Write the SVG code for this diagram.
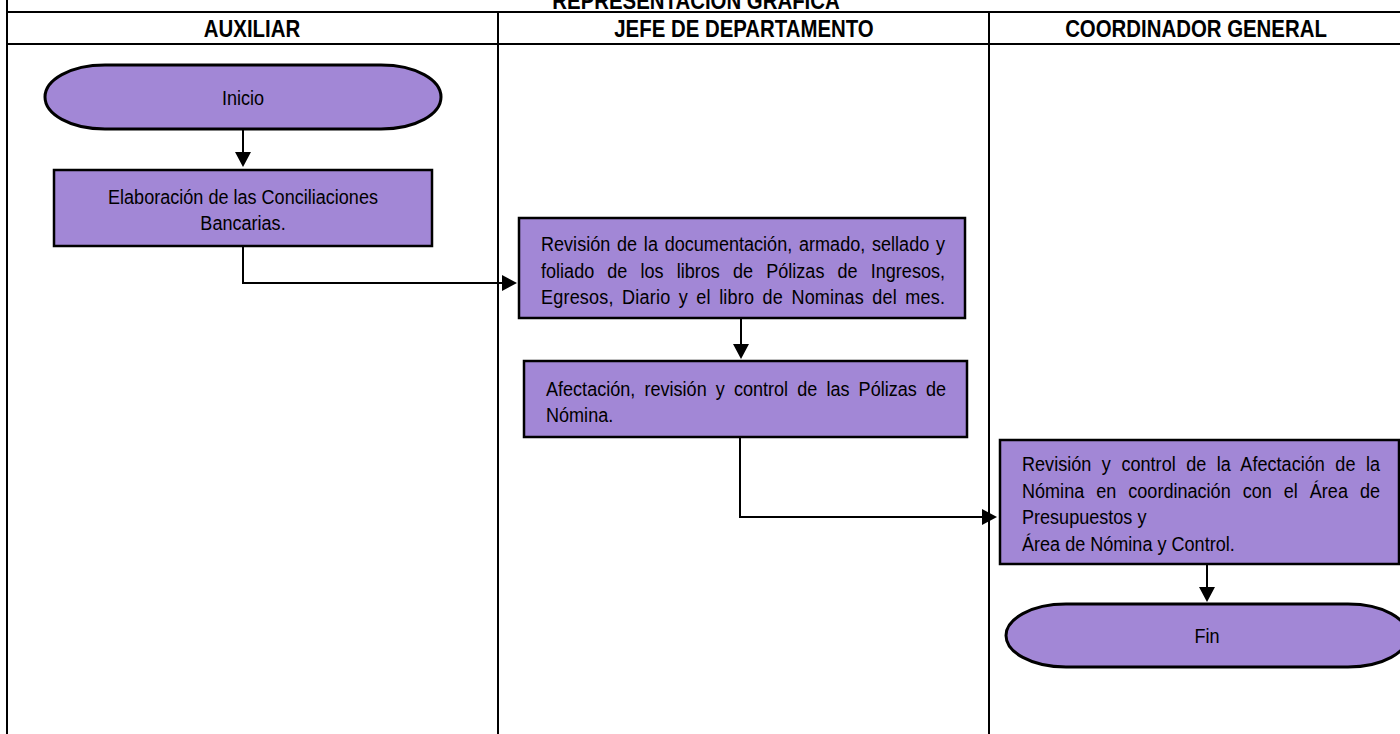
<svg xmlns="http://www.w3.org/2000/svg" width="1400" height="734" viewBox="0 0 1400 734">
<defs>
<style>
.grid{stroke:#000;stroke-width:2;fill:none}
.box{fill:#a287d6;stroke:#000;stroke-width:2.5}
.term{fill:#a287d6;stroke:#000;stroke-width:3}
.t{font-family:'Liberation Sans',Arial,sans-serif;font-size:21px;fill:#000}
.h{font-family:'Liberation Sans',Arial,sans-serif;font-size:24px;font-weight:bold;fill:#000}
.c{stroke:#000;stroke-width:2;fill:none;marker-end:url(#arr)}
</style>
<marker id="arr" viewBox="0 0 15 16" markerWidth="15" markerHeight="16" refX="13" refY="8" orient="auto" markerUnits="userSpaceOnUse">
<path d="M0,0 L15,8 L0,16 Z" fill="#000"/>
</marker>
</defs>
<rect width="1400" height="734" fill="#fff"/>
<g id="table">
<line class="grid" x1="7" y1="0" x2="7" y2="734"/>
<line class="grid" x1="6" y1="12" x2="1400" y2="12"/>
<line class="grid" x1="6" y1="44" x2="1400" y2="44"/>
<line class="grid" x1="498" y1="12" x2="498" y2="734"/>
<line class="grid" x1="989" y1="12" x2="989" y2="734"/>
<text class="h" transform="translate(696,9) scale(0.85,1)" text-anchor="middle">REPRESENTACIÓN GRÁFICA</text>
<text class="h" transform="translate(252,37) scale(0.85,1)" text-anchor="middle">AUXILIAR</text>
<text class="h" transform="translate(744,37) scale(0.85,1)" text-anchor="middle">JEFE DE DEPARTAMENTO</text>
<text class="h" transform="translate(1196,37) scale(0.85,1)" text-anchor="middle">COORDINADOR GENERAL</text>
</g>
<g id="connectors">
<path class="c" d="M243,129 V165"/>
<path class="c" d="M243,246 V283 H515"/>
<path class="c" d="M741,318 V357"/>
<path class="c" d="M740,437 V517 H995"/>
<path class="c" d="M1207,564 V600"/>
</g>
<g id="inicio">
<path class="term" d="M105,65 H381 C416,65 441,80 441,97 C441,114 416,129 381,129 H105 C70,129 45,114 45,97 C45,80 70,65 105,65 Z"/>
<text class="t" transform="translate(243,104.5) scale(0.86,1)" text-anchor="middle">Inicio</text>
</g>
<g id="conciliaciones">
<rect class="box" x="54" y="170" width="378" height="76"/>
<text class="t" transform="translate(243,203.5) scale(0.86,1)" text-anchor="middle">Elaboración de las Conciliaciones</text>
<text class="t" transform="translate(243,229.5) scale(0.86,1)" text-anchor="middle">Bancarias.</text>
</g>
<g id="revision-documentacion">
<rect class="box" x="519" y="218" width="446" height="100"/>
<text class="t" transform="translate(541,250.5) scale(0.86,1)" word-spacing="2" textLength="469.8" lengthAdjust="spacing">Revisión de la documentación, armado, sellado y</text>
<text class="t" transform="translate(541,277.5) scale(0.86,1)" word-spacing="9.4" textLength="469.8" lengthAdjust="spacing">foliado de los libros de Pólizas de Ingresos,</text>
<text class="t" transform="translate(541,303.5) scale(0.86,1)" word-spacing="3.7" textLength="469.8" lengthAdjust="spacing">Egresos, Diario y el libro de Nominas del mes.</text>
</g>
<g id="afectacion">
<rect class="box" x="524" y="361" width="443" height="76"/>
<text class="t" transform="translate(546,395.5) scale(0.86,1)" word-spacing="4.75" textLength="465.1" lengthAdjust="spacing">Afectación, revisión y control de las Pólizas de</text>
<text class="t" transform="translate(546,421.5) scale(0.86,1)">Nómina.</text>
</g>
<g id="revision-control">
<rect class="box" x="1000" y="440" width="399" height="124"/>
<text class="t" transform="translate(1022,470.5) scale(0.86,1)" word-spacing="6.3" textLength="416.3" lengthAdjust="spacing">Revisión y control de la Afectación de la</text>
<text class="t" transform="translate(1022,497.5) scale(0.86,1)" word-spacing="8.1" textLength="416.3" lengthAdjust="spacing">Nómina en coordinación con el Área de</text>
<text class="t" transform="translate(1022,523.5) scale(0.86,1)">Presupuestos y</text>
<text class="t" transform="translate(1022,550.5) scale(0.86,1)">Área de Nómina y Control.</text>
</g>
<g id="fin">
<path class="term" d="M1066,604 H1348 C1383,604 1408,619 1408,635.5 C1408,652 1383,667 1348,667 H1066 C1031,667 1006,652 1006,635.5 C1006,619 1031,604 1066,604 Z"/>
<text class="t" transform="translate(1207,643) scale(0.86,1)" text-anchor="middle">Fin</text>
</g>
</svg>
